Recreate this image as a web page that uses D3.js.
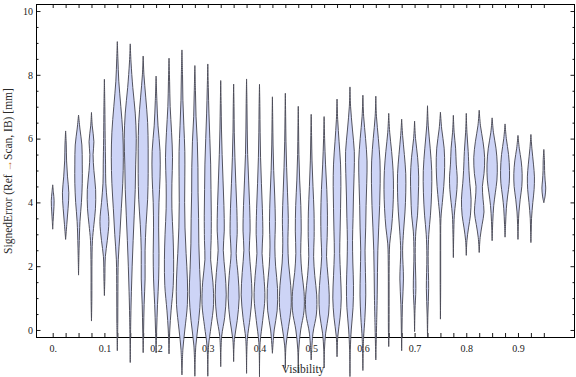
<!DOCTYPE html>
<html>
<head>
<meta charset="utf-8">
<script src="https://cdn.jsdelivr.net/npm/d3@7"></script>
<style>
  body { margin: 0; background: #fff; }
  svg { display: block; }
  .tick text { font-family: "Liberation Serif", "Times New Roman", serif; font-size: 10px; fill: #222; }
  .axisLabel { font-family: "Liberation Serif", "Times New Roman", serif; font-size: 11.5px; fill: #2a2a2a; }
</style>
</head>
<body>
<div id="chart"></div>
<script>
//SVG size:
var svgWidth = 576;
var svgHeight = 377;

//Plot frame edges (pixels):
var frame = { left: 36, right: 575, top: 4, bottom: 337 };

//Category positions on the x axis (Visibility):
var visibility = [0, 0.025, 0.05, 0.075, 0.1, 0.125, 0.15, 0.175, 0.2, 0.225,
    0.25, 0.275, 0.3, 0.325, 0.35, 0.375, 0.4, 0.425, 0.45, 0.475,
    0.5, 0.525, 0.55, 0.575, 0.6, 0.625, 0.65, 0.675, 0.7, 0.725,
    0.75, 0.775, 0.8, 0.825, 0.85, 0.875, 0.9, 0.925, 0.95];

//Tick values:
var xLabelTicks = [0, 0.1, 0.2, 0.3, 0.4, 0.5, 0.6, 0.7, 0.8, 0.9];
var xLabelText = ["0.", "0.1", "0.2", "0.3", "0.4", "0.5", "0.6", "0.7", "0.8", "0.9"];
var yMajorTicks = [0, 2, 4, 6, 8, 10];
var yMinorTicks = [0.5, 1, 1.5, 2.5, 3, 3.5, 4.5, 5, 5.5, 6.5, 7, 7.5, 8.5, 9, 9.5];

//Smooth density profile of each violin: [SignedError, relative density], top to bottom
var profiles = [
    [[4.55,0],[4.3,0.12],[4.05,0.22],[3.7,0.15],[3.4,0.06],[3.16,0]],
    [[6.24,0],[5.8,0.1],[5.3,0.15],[4.8,0.3],[4.3,0.5],[3.8,0.38],[3.3,0.18],[2.84,0]],
    [[6.74,0],[6.3,0.22],[5.8,0.52],[5.2,0.58],[4.6,0.58],[4.0,0.45],[3.4,0.22],[2.6,0.09],[1.72,0]],
    [[6.82,0],[6.4,0.12],[5.9,0.38],[5.5,0.25],[5.0,0.38],[4.4,0.65],[3.8,0.62],[3.3,0.38],[2.8,0.15],[2.0,0.07],[1.0,0.06],[0.28,0]],
    [[7.86,0],[7.0,0.07],[6.0,0.12],[5.2,0.18],[4.6,0.22],[4.0,0.45],[3.4,0.7],[2.8,0.45],[2.3,0.15],[1.6,0.07],[1.08,0]],
    [[9.04,0],[8.5,0.09],[7.8,0.23],[7.0,0.55],[6.2,0.85],[5.4,0.94],[4.6,0.85],[3.8,0.62],[3.0,0.4],[2.2,0.15],[1.2,0.09],[0.2,0.07],[-0.65,0]],
    [[8.97,0],[8.4,0.12],[7.6,0.4],[6.8,0.78],[6.0,0.94],[5.2,0.85],[4.4,0.78],[3.6,0.62],[2.8,0.45],[2.0,0.3],[1.2,0.18],[0.4,0.09],[-1.02,0]],
    [[8.59,0],[8.0,0.12],[7.3,0.4],[6.5,0.7],[5.7,0.78],[4.9,0.78],[4.1,0.7],[3.3,0.45],[2.5,0.3],[1.6,0.3],[0.8,0.15],[0,0.07],[-0.71,0]],
    [[7.96,0],[7.2,0.12],[6.4,0.3],[5.6,0.62],[4.8,0.62],[4.0,0.45],[3.2,0.4],[2.4,0.45],[1.6,0.4],[0.8,0.22],[0,0.09],[-0.72,0]],
    [[8.52,0],[7.8,0.09],[7.0,0.18],[6.2,0.4],[5.4,0.55],[4.6,0.45],[3.8,0.45],[3.0,0.62],[2.2,0.72],[1.4,0.66],[0.6,0.32],[0,0.12],[-0.75,0]],
    [[8.78,0],[8.0,0.09],[7.2,0.15],[6.4,0.3],[5.6,0.45],[4.8,0.45],[4.0,0.42],[3.2,0.48],[2.4,0.65],[1.6,0.85],[0.8,0.85],[0,0.45],[-0.6,0.15],[-1.41,0]],
    [[8.29,0],[7.5,0.09],[6.7,0.18],[5.9,0.38],[5.1,0.48],[4.3,0.5],[3.5,0.58],[2.7,0.62],[1.9,0.75],[1.1,0.88],[0.3,0.6],[-0.5,0.15],[-1.45,0]],
    [[8.34,0],[7.6,0.08],[6.8,0.18],[6.0,0.32],[5.2,0.45],[4.4,0.5],[3.6,0.55],[2.8,0.52],[2.2,0.45],[1.5,0.8],[0.8,0.9],[0.1,0.5],[-0.5,0.12],[-1.45,0]],
    [[7.82,0],[7.1,0.06],[6.3,0.12],[5.5,0.22],[4.7,0.36],[3.9,0.5],[3.1,0.55],[2.5,0.4],[1.8,0.68],[1.1,0.86],[0.4,0.62],[-0.2,0.15],[-1.15,0]],
    [[7.71,0],[7.0,0.06],[6.2,0.1],[5.4,0.2],[4.6,0.34],[3.8,0.5],[3.0,0.55],[2.4,0.4],[1.7,0.7],[1.0,0.86],[0.3,0.56],[-0.3,0.12],[-0.99,0]],
    [[7.87,0],[7.1,0.06],[6.3,0.1],[5.5,0.17],[4.7,0.32],[3.9,0.48],[3.1,0.55],[2.5,0.42],[1.8,0.68],[1.1,0.84],[0.4,0.56],[-0.3,0.12],[-1.36,0]],
    [[7.7,0],[7.0,0.06],[6.2,0.1],[5.4,0.17],[4.6,0.3],[3.8,0.45],[3.0,0.52],[2.4,0.4],[1.7,0.68],[1.0,0.84],[0.3,0.5],[-0.4,0.1],[-1.47,0]],
    [[7.31,0],[6.6,0.05],[5.8,0.1],[5.0,0.2],[4.2,0.36],[3.4,0.46],[2.6,0.38],[2.0,0.5],[1.3,0.8],[0.6,0.74],[0,0.28],[-0.73,0]],
    [[7.42,0],[6.7,0.05],[5.9,0.1],[5.1,0.2],[4.3,0.34],[3.5,0.46],[2.7,0.4],[2.1,0.5],[1.4,0.84],[0.7,0.9],[0.1,0.5],[-0.5,0.1],[-1.2,0]],
    [[7.01,0],[6.3,0.05],[5.5,0.1],[4.7,0.22],[3.9,0.4],[3.1,0.46],[2.4,0.38],[1.8,0.56],[1.2,0.9],[0.6,0.9],[0,0.38],[-0.6,0.08],[-1.35,0]],
    [[6.76,0],[6.1,0.06],[5.3,0.13],[4.5,0.28],[3.7,0.44],[2.9,0.46],[2.3,0.38],[1.7,0.56],[1.1,0.86],[0.5,0.82],[-0.1,0.28],[-0.94,0]],
    [[6.69,0],[6.0,0.08],[5.2,0.22],[4.4,0.42],[3.6,0.52],[2.9,0.48],[2.3,0.38],[1.7,0.6],[1.1,0.8],[0.5,0.7],[-0.1,0.24],[-0.6,0.06],[-1.19,0]],
    [[7.24,0],[6.6,0.1],[5.9,0.32],[5.2,0.55],[4.5,0.6],[3.8,0.55],[3.1,0.48],[2.4,0.42],[1.7,0.55],[1.0,0.66],[0.4,0.48],[-0.2,0.12],[-0.84,0]],
    [[7.62,0],[7.0,0.1],[6.3,0.38],[5.6,0.68],[4.9,0.65],[4.2,0.55],[3.5,0.48],[2.8,0.4],[2.1,0.45],[1.4,0.55],[0.7,0.48],[0,0.2],[-0.6,0.06],[-1.46,0]],
    [[7.36,0],[6.7,0.12],[6.0,0.42],[5.3,0.65],[4.6,0.6],[3.9,0.5],[3.2,0.44],[2.5,0.34],[1.8,0.4],[1.1,0.45],[0.4,0.32],[-0.3,0.1],[-1.27,0]],
    [[7.33,0],[6.7,0.1],[6.0,0.4],[5.3,0.65],[4.6,0.68],[3.9,0.6],[3.2,0.45],[2.5,0.32],[1.8,0.26],[1.1,0.22],[0.4,0.15],[-0.94,0]],
    [[6.79,0],[6.2,0.15],[5.6,0.45],[5.0,0.68],[4.4,0.74],[3.8,0.65],[3.2,0.44],[2.7,0.15],[2.0,0.07],[1.0,0.06],[0,0.05],[-0.52,0]],
    [[6.61,0],[6.1,0.15],[5.5,0.42],[4.9,0.64],[4.3,0.64],[3.7,0.52],[3.1,0.3],[2.5,0.15],[1.6,0.28],[0.8,0.12],[0,0.05],[-0.65,0]],
    [[6.55,0],[6.0,0.15],[5.4,0.48],[4.8,0.64],[4.2,0.58],[3.6,0.46],[3.1,0.2],[2.4,0.1],[1.3,0.2],[0.6,0.06],[-0.05,0]],
    [[7.03,0],[6.4,0.12],[5.7,0.42],[5.0,0.66],[4.3,0.64],[3.6,0.46],[3.0,0.2],[2.3,0.1],[1.3,0.18],[0.5,0.06],[-0.21,0]],
    [[6.83,0],[6.3,0.2],[5.7,0.58],[5.1,0.66],[4.5,0.52],[4.0,0.3],[3.5,0.08],[2.5,0.04],[1.5,0.04],[0.34,0]],
    [[6.73,0],[6.2,0.12],[5.7,0.35],[5.2,0.45],[4.8,0.6],[4.4,0.55],[4.0,0.35],[3.6,0.15],[3.0,0.06],[2.27,0]],
    [[6.79,0],[6.2,0.1],[5.6,0.3],[5.0,0.42],[4.6,0.55],[4.1,0.75],[3.6,0.65],[3.2,0.35],[2.8,0.1],[2.34,0]],
    [[6.89,0],[6.4,0.2],[5.9,0.6],[5.4,0.85],[4.9,0.75],[4.5,0.5],[4.1,0.6],[3.7,0.75],[3.3,0.45],[2.9,0.15],[2.43,0]],
    [[6.65,0],[6.2,0.2],[5.7,0.6],[5.2,0.8],[4.7,0.75],[4.3,0.5],[3.9,0.25],[3.4,0.1],[2.8,0]],
    [[6.46,0],[6.0,0.2],[5.5,0.55],[5.0,0.7],[4.6,0.65],[4.2,0.4],[3.8,0.2],[3.3,0.08],[2.91,0]],
    [[6.1,0],[5.7,0.2],[5.3,0.5],[4.9,0.65],[4.5,0.6],[4.1,0.35],[3.7,0.15],[3.3,0.06],[2.84,0]],
    [[6.13,0],[5.7,0.15],[5.2,0.4],[4.8,0.55],[4.4,0.5],[4.0,0.3],[3.5,0.1],[3.1,0.05],[2.74,0]],
    [[5.66,0],[5.3,0.1],[5.0,0.12],[4.7,0.2],[4.45,0.3],[4.2,0.2],[3.99,0]]
];

//Create the SVG:
var svg = d3.select("#chart")
    .append("svg")
    .attr("width", svgWidth)
    .attr("height", svgHeight);

//Scales:
var x = d3.scaleLinear()
    .domain([-0.0323, 1.0103])
    .range([frame.left, frame.right]);
var y = d3.scaleLinear()
    .domain([-0.22, 10.22])
    .range([frame.bottom, frame.top]);
//density -> half width of a violin
var w = d3.scaleLinear()
    .domain([0, 1])
    .range([0, 6.4]);

//Axes (ticks point inward, frame is drawn separately):
var bottomAxis = d3.axisBottom(x)
    .tickValues(visibility)
    .tickSizeInner(-4)
    .tickSizeOuter(0)
    .tickPadding(7.5)
    .tickFormat(d => {
        var k = xLabelTicks.findIndex(t => Math.abs(t - d) < 1e-9);
        return k >= 0 ? xLabelText[k] : "";
    });
var topAxis = d3.axisTop(x)
    .tickValues(visibility)
    .tickSizeInner(-4)
    .tickSizeOuter(0)
    .tickFormat("");
var leftAxis = d3.axisLeft(y)
    .tickValues(yMajorTicks)
    .tickSizeInner(-4.5)
    .tickSizeOuter(0)
    .tickPadding(3)
    .tickFormat(d3.format("d"));
var leftMinor = d3.axisLeft(y)
    .tickValues(yMinorTicks)
    .tickSizeInner(-2.5)
    .tickSizeOuter(0)
    .tickFormat("");
var rightAxis = d3.axisRight(y)
    .tickValues(yMajorTicks)
    .tickSizeInner(-4.5)
    .tickSizeOuter(0)
    .tickFormat("");
var rightMinor = d3.axisRight(y)
    .tickValues(yMinorTicks)
    .tickSizeInner(-2.5)
    .tickSizeOuter(0)
    .tickFormat("");

function drawAxis(axis, tx, ty) {
    var g = svg.append("g")
        .attr("transform", `translate(${tx}, ${ty})`)
        .call(axis);
    g.select(".domain").remove();
    g.selectAll(".tick line").attr("stroke", "#000").attr("stroke-width", 0.9);
    return g;
}

drawAxis(bottomAxis, 0, frame.bottom);
drawAxis(topAxis, 0, frame.top);
drawAxis(leftAxis, frame.left, 0);
drawAxis(leftMinor, frame.left, 0);
drawAxis(rightAxis, frame.right, 0);
drawAxis(rightMinor, frame.right, 0);

//Frame:
svg.append("rect")
    .attr("x", frame.left + 0.5)
    .attr("y", frame.top + 0.5)
    .attr("width", frame.right - frame.left - 1)
    .attr("height", frame.bottom - frame.top)
    .attr("fill", "none")
    .attr("stroke", "#000")
    .attr("stroke-width", 1);

//Violins (drawn over the frame, they spill past the bottom edge):
var violinGroup = svg.append("g");
profiles.forEach(function(prof, i) {
    var cx = x(visibility[i]);
    var area = d3.area()
        .curve(d3.curveCatmullRom.alpha(0.5))
        .y(d => y(d[0]))
        .x0(d => cx - w(d[1]))
        .x1(d => cx + w(d[1]));
    violinGroup.append("path")
        .datum(prof)
        .attr("d", area)
        .attr("fill", "#cdd4f6")
        .attr("stroke", "#4a4a55")
        .attr("stroke-width", 0.95)
        .attr("stroke-linejoin", "round");
});

//Axis labels:
svg.append("text")
    .attr("class", "axisLabel")
    .attr("x", 303)
    .attr("y", 372.5)
    .attr("text-anchor", "middle")
    .text("Visibility");

var yLabel = svg.append("text")
    .attr("class", "axisLabel")
    .attr("transform", "translate(11.5, 171) rotate(-90)")
    .attr("text-anchor", "middle");
yLabel.append("tspan").text("SignedError (Ref ");
yLabel.append("tspan").attr("fill", "#c8782a").text("→");
yLabel.append("tspan").text("Scan, IB) [mm]");
</script>
</body>
</html>
